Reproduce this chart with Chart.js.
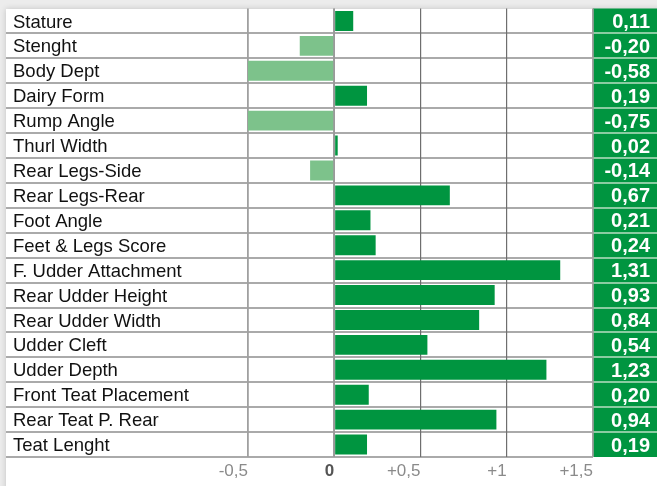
<!DOCTYPE html>
<html>
<head>
<meta charset="utf-8">
<script src="https://cdn.jsdelivr.net/npm/chart.js@4/dist/chart.umd.min.js"></script>
<style>
  html, body { margin: 0; padding: 0; }
  body { width: 657px; height: 486px; background: #ececec; position: relative; overflow: hidden; }
  #card { position: absolute; left: 6px; top: 9px; width: 660px; height: 490px; background: #fff; box-shadow: 0 0 6px rgba(0,0,0,0.18); }
  #wrap { position: absolute; left: 0; top: 0; width: 657px; height: 486px; }
</style>
</head>
<body>
<div id="card"></div>
<div id="wrap"><canvas id="c" width="657" height="486"></canvas></div>
<script>
const categories = [
  "Stature", "Stenght", "Body Dept", "Dairy Form", "Rump Angle", "Thurl Width",
  "Rear Legs-Side", "Rear Legs-Rear", "Foot Angle", "Feet & Legs Score",
  "F. Udder Attachment", "Rear Udder Height", "Rear Udder Width", "Udder Cleft",
  "Udder Depth", "Front Teat Placement", "Rear Teat P. Rear", "Teat Lenght"
];
const values = [0.11, -0.20, -0.58, 0.19, -0.75, 0.02, -0.14, 0.67, 0.21, 0.24,
                1.31, 0.93, 0.84, 0.54, 1.23, 0.20, 0.94, 0.19];
const xTicks = [-0.5, 0, 0.5, 1, 1.5];
const xTickLabels = ["-0,5", "0", "+0,5", "+1", "+1,5"];

const POS = "#009540";
const NEG = "#7dc28b";
const LINE = "#8e8e8e";

const valueLabels = values.map(v => v.toFixed(2).replace(".", ","));

const decorPlugin = {
  id: "decor",
  beforeDraw(chart) {
    const ctx = chart.ctx;
    const y = chart.scales.y;
    const y2 = chart.scales.y2;
    const area = chart.chartArea;
    const W = chart.width;
    ctx.save();
    ctx.fillStyle = POS;
    ctx.fillRect(y2.left, area.top, W - y2.left, area.bottom - area.top);
    for (let i = 1; i <= categories.length; i++) {
      const py = Math.round(y.getPixelForValue(i - 0.5));
      ctx.strokeStyle = LINE;
      ctx.lineWidth = 1.5;
      ctx.beginPath();
      ctx.moveTo(6, py);
      ctx.lineTo(y2.left, py);
      ctx.stroke();
      if (i < categories.length) {
        ctx.strokeStyle = "#b9dfc3";
        ctx.lineWidth = 1.5;
        ctx.beginPath();
        ctx.moveTo(y2.left, py);
        ctx.lineTo(W, py);
        ctx.stroke();
      }
    }
    ctx.restore();
  },
  afterDatasetsDraw(chart) {
    const ctx = chart.ctx;
    const x = chart.scales.x;
    const area = chart.chartArea;
    const px = x.getPixelForValue(0);
    ctx.save();
    ctx.strokeStyle = "#9a9a9a";
    ctx.lineWidth = 1.5;
    ctx.beginPath();
    ctx.moveTo(px, area.top);
    ctx.lineTo(px, area.bottom);
    ctx.stroke();
    ctx.restore();
  }
};

new Chart(document.getElementById("c"), {
  type: "bar",
  data: {
    labels: categories,
    datasets: [{
      data: values,
      backgroundColor: values.map(v => v >= 0 ? POS : NEG),
      borderWidth: 0,
      barPercentage: 0.8,
      categoryPercentage: 1.0,
      yAxisID: "y"
    }]
  },
  options: {
    indexAxis: "y",
    responsive: false,
    animation: false,
    devicePixelRatio: 1,
    layout: { padding: { left: 13, top: 8.5, right: 7, bottom: 0 } },
    plugins: { legend: { display: false }, tooltip: { enabled: false } },
    scales: {
      x: {
        type: "linear",
        min: -0.5,
        max: 1.5,
        afterBuildTicks(scale) { scale.ticks = xTicks.map(v => ({ value: v })); },
        afterFit(scale) { scale.height = 29; },
        border: { display: false },
        grid: {
          drawTicks: false,
          color: ctx => (ctx.tick && (ctx.tick.value === 0.5 || ctx.tick.value === 1)) ? "#6e6e6e" : "#a0a0a0",
          lineWidth: ctx => (ctx.tick && (ctx.tick.value === 0.5 || ctx.tick.value === 1)) ? 1.2 : 1.8
        },
        ticks: {
          align: "end",
          padding: 4,
          color: ctx => ctx.tick && ctx.tick.value === 0 ? "#555555" : "#8a8a8a",
          font: ctx => ({ family: "'Liberation Sans', Arial, sans-serif", size: 17, weight: ctx.tick && ctx.tick.value === 0 ? "bold" : "normal" }),
          callback: (v) => { const i = xTicks.indexOf(v); return i >= 0 ? xTickLabels[i] : ""; }
        }
      },
      y: {
        type: "category",
        position: "left",
        offset: true,
        afterFit(scale) { scale.width = 235; },
        border: { display: false },
        grid: { display: false },
        ticks: {
          autoSkip: false,
          crossAlign: "far",
          labelOffset: 1.5,
          color: "#111111",
          padding: 0,
          font: { family: "'Liberation Sans', Arial, sans-serif", size: 18.5, lineHeight: 0.8 }
        }
      },
      y2: {
        type: "category",
        position: "right",
        labels: valueLabels,
        offset: true,
        afterFit(scale) { scale.width = 57; },
        border: { display: false },
        grid: { display: false },
        ticks: {
          autoSkip: false,
          crossAlign: "far",
          labelOffset: 1.5,
          color: "#ffffff",
          padding: 0,
          font: { family: "'Liberation Sans', Arial, sans-serif", size: 20, weight: "bold", lineHeight: 0.8 }
        }
      }
    }
  },
  plugins: [decorPlugin]
});
</script>
</body>
</html>
